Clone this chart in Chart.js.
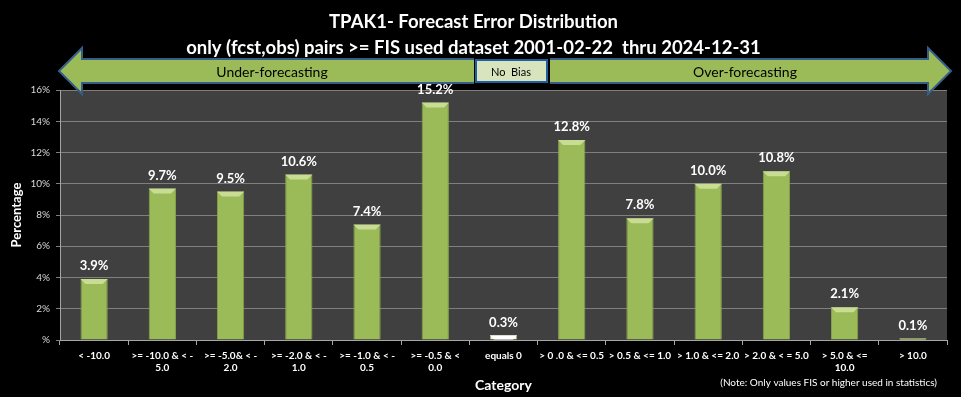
<!DOCTYPE html>
<html lang="en">

<head>
    <meta charset="UTF-8">
    <title>TPAK1 Forecast Error Distribution</title>
    <script src="https://cdn.jsdelivr.net/npm/chart.js@4.4.1/dist/chart.umd.min.js"></script>
    <style>
        html, body { margin: 0; padding: 0; background: #000; }
        #wrap { width: 961px; height: 397px; }
    </style>
</head>

<body>
    <div id="wrap"><canvas id="myChart" width="961" height="397"></canvas></div>
    <script>

        // data
        const categories = [
            ['< -10.0'],
            ['>= -10.0 & < -', '5.0'],
            ['>= -5.0& < -', '2.0'],
            ['>= -2.0 & < -', '1.0'],
            ['>= -1.0 & < -', '0.5'],
            ['>= -0.5 & <', '0.0'],
            ['equals 0'],
            ['> 0 .0 & <= 0.5'],
            ['> 0.5 & <= 1.0'],
            ['> 1.0 & <= 2.0'],
            ['> 2.0 & < = 5.0'],
            ['> 5.0 & <=', '10.0'],
            ['> 10.0']
        ];
        const percentages = [3.9, 9.7, 9.5, 10.6, 7.4, 15.2, 0.3, 12.8, 7.8, 10.0, 10.8, 2.1, 0.1];
        const yTicks = [0, 2, 4, 6, 8, 10, 12, 14, 16];
        const titleLines = ['TPAK1- Forecast Error Distribution',
            'only (fcst,obs) pairs >= FIS used dataset 2001-02-22  thru 2024-12-31'];
        const biasLabels = ['Under-forecasting', 'No  Bias', 'Over-forecasting'];
        const note = '(Note: Only values FIS or higher used in statistics)';

        const FONT = 'Lato, "Open Sans", sans-serif';
        const GREEN = '#9BBB59';
        const zeroIndex = categories.findIndex(c => c[0] === 'equals 0');

        // dark plot background + arrow + labels on top
        const decor = {
            id: 'decor',
            beforeDraw(chart) {
                const { ctx, chartArea: a } = chart;
                ctx.save();
                ctx.fillStyle = '#000';
                ctx.fillRect(0, 0, chart.width, chart.height);
                ctx.fillStyle = '#404040';
                ctx.fillRect(a.left, a.top, a.right - a.left, a.bottom - a.top);
                ctx.restore();
            },
            afterDatasetsDraw(chart) {
                const ctx = chart.ctx;
                const meta = chart.getDatasetMeta(0);
                ctx.save();
                // bevel highlight on top of each bar
                meta.data.forEach((bar, i) => {
                    const w = bar.width;
                    const x0 = bar.x - w / 2, y0 = bar.y;
                    const cap = Math.min(5, bar.base - bar.y);
                    ctx.fillStyle = i === zeroIndex ? '#ffffff' : '#c8dc94';
                    ctx.beginPath();
                    ctx.moveTo(x0, y0);
                    ctx.lineTo(x0 + w, y0);
                    ctx.lineTo(x0 + w - cap, y0 + cap);
                    ctx.lineTo(x0 + cap, y0 + cap);
                    ctx.closePath();
                    ctx.fill();
                });
                ctx.restore();
            },
            afterDraw(chart) {
                const ctx = chart.ctx;
                ctx.save();
                // double arrow
                const yMid = 71, shaftH = 12, headH = 23;
                const xl = 59, xr = 951, headL = 82, headR = 928;
                ctx.beginPath();
                ctx.moveTo(xl, yMid);
                ctx.lineTo(headL, yMid - headH);
                ctx.lineTo(headL, yMid - shaftH);
                ctx.lineTo(headR, yMid - shaftH);
                ctx.lineTo(headR, yMid - headH);
                ctx.lineTo(xr, yMid);
                ctx.lineTo(headR, yMid + headH);
                ctx.lineTo(headR, yMid + shaftH);
                ctx.lineTo(headL, yMid + shaftH);
                ctx.lineTo(headL, yMid + headH);
                ctx.closePath();
                ctx.fillStyle = GREEN;
                ctx.fill();
                ctx.lineWidth = 2;
                ctx.strokeStyle = '#385D8A';
                ctx.stroke();
                // no bias box
                ctx.fillStyle = '#000';
                ctx.fillRect(474, yMid - shaftH - 1, 76, shaftH * 2 + 2);
                ctx.fillStyle = '#D7E4BD';
                ctx.fillRect(476, yMid - shaftH + 1, 71, shaftH * 2 - 2);
                ctx.strokeStyle = '#1F5F9F';
                ctx.lineWidth = 2;
                ctx.strokeRect(476, yMid - shaftH + 1, 71, shaftH * 2 - 2);
                ctx.fillStyle = '#000';
                ctx.textAlign = 'center';
                ctx.textBaseline = 'middle';
                ctx.font = '14px ' + FONT;
                ctx.fillText(biasLabels[0], 272, yMid + 1);
                ctx.fillText(biasLabels[2], 745, yMid + 1);
                ctx.font = '11px ' + FONT;
                ctx.fillText(biasLabels[1], 511, yMid + 1);
                // value labels
                const meta = chart.getDatasetMeta(0);
                ctx.fillStyle = '#ffffff';
                ctx.font = 'bold 13px ' + FONT;
                ctx.textBaseline = 'middle';
                meta.data.forEach((bar, i) => {
                    ctx.fillText(percentages[i].toFixed(1) + '%', bar.x, bar.y - 13);
                });
                // note
                ctx.font = '10px ' + FONT;
                ctx.textAlign = 'right';
                ctx.fillText(note, 937, 383);
                ctx.restore();
            }
        };

        const ctx = document.getElementById('myChart').getContext('2d');
        const myChart = new Chart(ctx, {
            type: 'bar',
            data: {
                labels: categories,
                datasets: [{
                    data: percentages,
                    backgroundColor: percentages.map((v, i) => i === zeroIndex ? '#F2F2E4' : GREEN),
                    borderColor: percentages.map((v, i) => i === zeroIndex ? '#9BBB59' : '#86A24A'),
                    borderWidth: 1,
                    categoryPercentage: 1,
                    barPercentage: 0.4
                }]
            },
            options: {
                responsive: false,
                animation: false,
                layout: { padding: { left: 0, right: 14, top: 0, bottom: 0 } },
                plugins: {
                    legend: { display: false },
                    tooltip: { enabled: false },
                    title: {
                        display: true,
                        text: titleLines,
                        color: '#ffffff',
                        font: { family: FONT, size: 18.5, weight: 'bold', lineHeight: 1.42 },
                        padding: { top: 9, bottom: 28.5 }
                    }
                },
                scales: {
                    x: {
                        offset: true,
                        grid: {
                            offset: true,
                            drawOnChartArea: false,
                            drawTicks: true,
                            tickLength: 5,
                            color: '#A6A6A6'
                        },
                        border: { color: '#A6A6A6' },
                        ticks: {
                            color: '#ffffff',
                            font: { family: FONT, size: 10, weight: 'bold' },
                            maxRotation: 0,
                            autoSkip: false,
                            padding: 5
                        },
                        title: {
                            display: true,
                            text: 'Category',
                            color: '#ffffff',
                            font: { family: FONT, size: 14, weight: 'bold' },
                            padding: { top: 2, bottom: 3 }
                        },
                        afterFit(scale) { scale.height = 57; }
                    },
                    y: {
                        min: 0,
                        max: 16,
                        afterBuildTicks(scale) { scale.ticks = yTicks.map(v => ({ value: v })); },
                        grid: { color: '#7F7F7F', drawTicks: true, tickLength: 4 },
                        border: { color: '#A6A6A6' },
                        ticks: {
                            color: '#D9D9D9',
                            font: { family: FONT, size: 10 },
                            padding: 6,
                            callback: v => (v === 0 ? '' : v) + '%'
                        },
                        title: {
                            display: true,
                            text: 'Percentage',
                            color: '#ffffff',
                            font: { family: FONT, size: 13, weight: 'bold' },
                            padding: { top: 9, bottom: 4 }
                        },
                        afterFit(scale) { scale.width = 60; }
                    }
                }
            },
            plugins: [decor]
        });

    </script>
</body>

</html>
